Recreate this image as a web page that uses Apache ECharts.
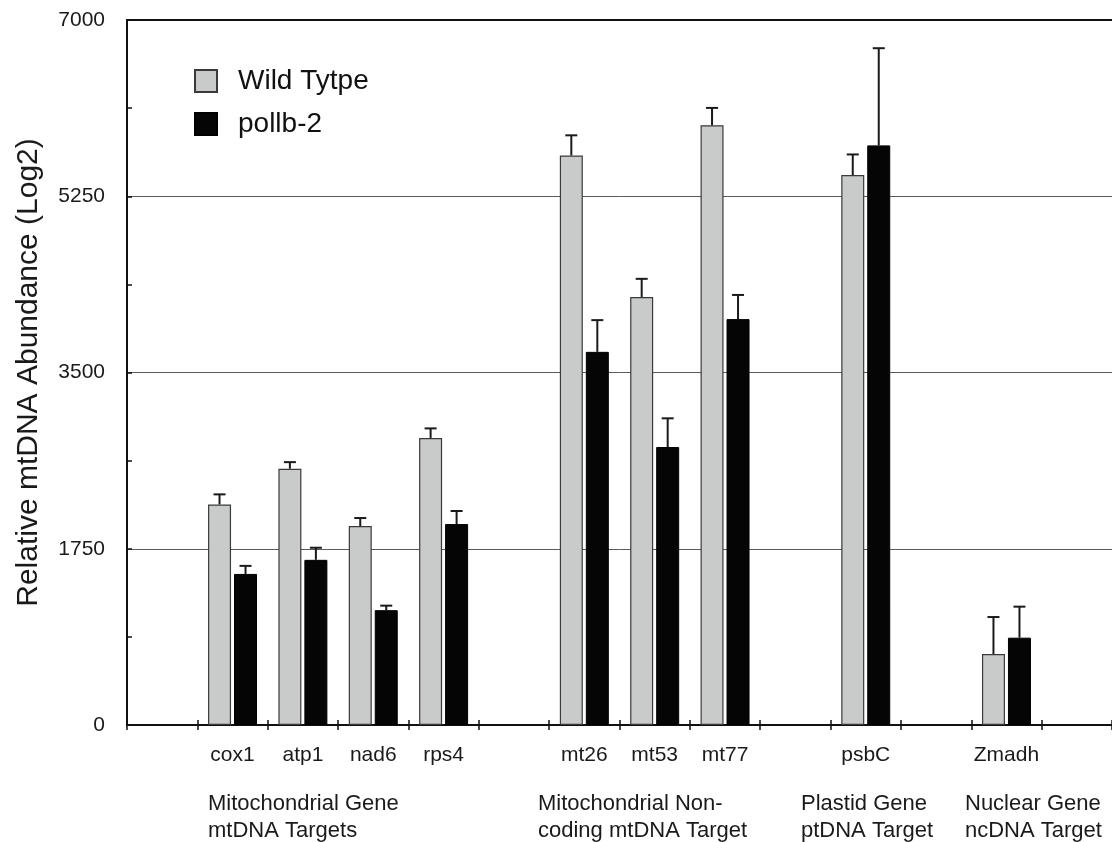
<!DOCTYPE html>
<html>
<head>
<meta charset="utf-8">
<script src="https://cdn.jsdelivr.net/npm/echarts@6/dist/echarts.min.js"></script>
<style>
  html, body { margin: 0; padding: 0; background: #fff; }
  #chart { width: 1112px; height: 842px; }
</style>
</head>
<body>
<div id="chart"></div>
<script>
// Target genes, in plotting order, split into their groups
const groupGenes = [
  ['cox1', 'atp1', 'nad6', 'rps4'],
  ['mt26', 'mt53', 'mt77'],
  ['psbC'],
  ['Zmadh']
];
const groupTitles = [
  'Mitochondrial Gene\nmtDNA Targets',
  'Mitochondrial Non-\ncoding mtDNA Target',
  'Plastid Gene\nptDNA Target',
  'Nuclear Gene\nncDNA Target'
];

// Relative abundance and error for each gene (same order as above, flattened)
const wildType    = [2190, 2545, 1975, 2850, 5655, 4250, 5955, 5460, 705];
const wildTypeErr = [100, 65, 80, 95, 200, 180, 172, 205, 367];
const pollb2      = [1500, 1640, 1140, 1995, 3705, 2760, 4030, 5755, 867];
const pollb2Err   = [80, 120, 45, 130, 315, 285, 240, 965, 308];

// Y axis: labelled every 1750, ticked every 875
const yMin = 0, yMax = 7000, yStep = 1750, yTickStep = 875;

const seriesNames = ['Wild Tytpe', 'pollb-2'];

// Build axis slots: an empty slot before, between and after the gene groups
const GAP = '\u0000gap';
const slots = [];
const geneSlot = [];
slots.push(GAP + slots.length);
groupGenes.forEach(function (genes) {
  genes.forEach(function (g) { geneSlot.push(slots.length); slots.push(g); });
  slots.push(GAP + slots.length);
});

function slotValues(values) {
  const out = slots.map(function () { return null; });
  values.forEach(function (v, i) { out[geneSlot[i]] = v; });
  return out;
}

const BAR_W = 23, BAR_GAP_PX = 3;
const halfPair = (BAR_W + BAR_GAP_PX) / 2;

function errorData(values, errs) {
  return values.map(function (v, i) { return [geneSlot[i], v, v + errs[i]]; });
}

function errorRenderer(offset) {
  return function (params, api) {
    const base = api.coord([api.value(0), api.value(1)]);
    const top = api.coord([api.value(0), api.value(2)]);
    const x = base[0] + offset;
    const style = { stroke: '#1a1a1a', lineWidth: 2 };
    return {
      type: 'group',
      children: [
        { type: 'line', shape: { x1: x, y1: base[1], x2: x, y2: top[1] }, style: style },
        { type: 'line', shape: { x1: x - 6, y1: top[1], x2: x + 6, y2: top[1] }, style: style }
      ]
    };
  };
}

const FONT = '"Liberation Sans", Arial, Helvetica, sans-serif';
const hideGap = function (v) { return v.indexOf(GAP) === 0 ? '' : v; };
const tickStyle = { color: '#111', width: 1.5 };

const chart = echarts.init(document.getElementById('chart'), null, { renderer: 'canvas' });

const option = {
  backgroundColor: '#ffffff',
  animation: false,
  textStyle: { fontFamily: FONT },
  grid: { left: 127, top: 20, right: -5, bottom: 117, containLabel: false },
  legend: {
    orient: 'vertical',
    left: 189,
    top: 62,
    itemWidth: 22,
    itemHeight: 22,
    itemGap: 15,
    icon: 'rect',
    data: seriesNames,
    textStyle: { fontFamily: FONT, fontSize: 28, color: '#111', lineHeight: 28, padding: [0, 0, 0, 16] }
  },
  xAxis: [
    {
      type: 'category',
      data: slots,
      position: 'bottom',
      axisLine: { onZero: false, lineStyle: { color: '#111', width: 2 } },
      axisTick: { show: true, length: 5, lineStyle: tickStyle },
      axisLabel: { margin: 20, fontSize: 21, color: '#1a1a1a', fontFamily: FONT, interval: 0, formatter: hideGap },
      splitLine: { show: false }
    },
    {
      type: 'category',
      data: slots,
      position: 'bottom',
      axisLine: { show: false, onZero: false },
      axisTick: { show: true, inside: true, length: 5, lineStyle: tickStyle },
      axisLabel: { show: false },
      splitLine: { show: false }
    },
    {
      type: 'category',
      data: slots,
      position: 'top',
      axisLine: { show: true, onZero: false, lineStyle: { color: '#111', width: 2 } },
      axisTick: { show: false },
      axisLabel: { show: false },
      splitLine: { show: false }
    }
  ],
  yAxis: [
    {
      type: 'value',
      min: yMin,
      max: yMax,
      interval: yStep,
      position: 'left',
      name: 'Relative mtDNA Abundance (Log2)',
      nameLocation: 'middle',
      nameGap: 83,
      nameTextStyle: { fontSize: 30, color: '#1a1a1a', fontFamily: FONT },
      axisLine: { show: true, onZero: false, lineStyle: { color: '#111', width: 2 } },
      axisTick: { show: false },
      axisLabel: { margin: 22, fontSize: 21, color: '#1a1a1a', fontFamily: FONT, formatter: function (v) { return String(v); } },
      splitLine: { show: true, lineStyle: { color: '#5a5a5a', width: 1 } }
    },
    {
      type: 'value',
      min: yMin,
      max: yMax,
      interval: yTickStep,
      position: 'left',
      axisLine: { show: false, onZero: false },
      axisTick: { show: true, inside: true, length: 5, lineStyle: tickStyle },
      axisLabel: { show: false },
      splitLine: { show: false }
    }
  ],
  series: [
    {
      name: seriesNames[0],
      type: 'bar',
      xAxisIndex: 0,
      yAxisIndex: 0,
      barWidth: BAR_W,
      barGap: (BAR_GAP_PX / BAR_W * 100).toFixed(1) + '%',
      data: slotValues(wildType),
      itemStyle: { color: '#c9cbca', borderColor: '#3a3a3a', borderWidth: 1.2 }
    },
    {
      name: seriesNames[1],
      type: 'bar',
      xAxisIndex: 0,
      yAxisIndex: 0,
      barWidth: BAR_W,
      data: slotValues(pollb2),
      itemStyle: { color: '#050505', borderColor: '#000', borderWidth: 1 }
    },
    {
      type: 'custom',
      xAxisIndex: 0,
      yAxisIndex: 0,
      z: 5,
      silent: true,
      renderItem: errorRenderer(-halfPair),
      encode: { x: 0, y: [1, 2] },
      data: errorData(wildType, wildTypeErr)
    },
    {
      type: 'custom',
      xAxisIndex: 0,
      yAxisIndex: 0,
      z: 5,
      silent: true,
      renderItem: errorRenderer(halfPair),
      encode: { x: 0, y: [1, 2] },
      data: errorData(pollb2, pollb2Err)
    }
  ],
  graphic: [
    { left: 208, top: 790 },
    { left: 538, top: 790 },
    { left: 801, top: 790 },
    { left: 965, top: 790 }
  ].map(function (pos, i) {
    return {
      type: 'text',
      left: pos.left,
      top: pos.top,
      style: {
        text: groupTitles[i],
        fontSize: 22,
        lineHeight: 27,
        fontFamily: FONT,
        fill: '#1a1a1a'
      }
    };
  })
};

chart.setOption(option);
</script>
</body>
</html>
